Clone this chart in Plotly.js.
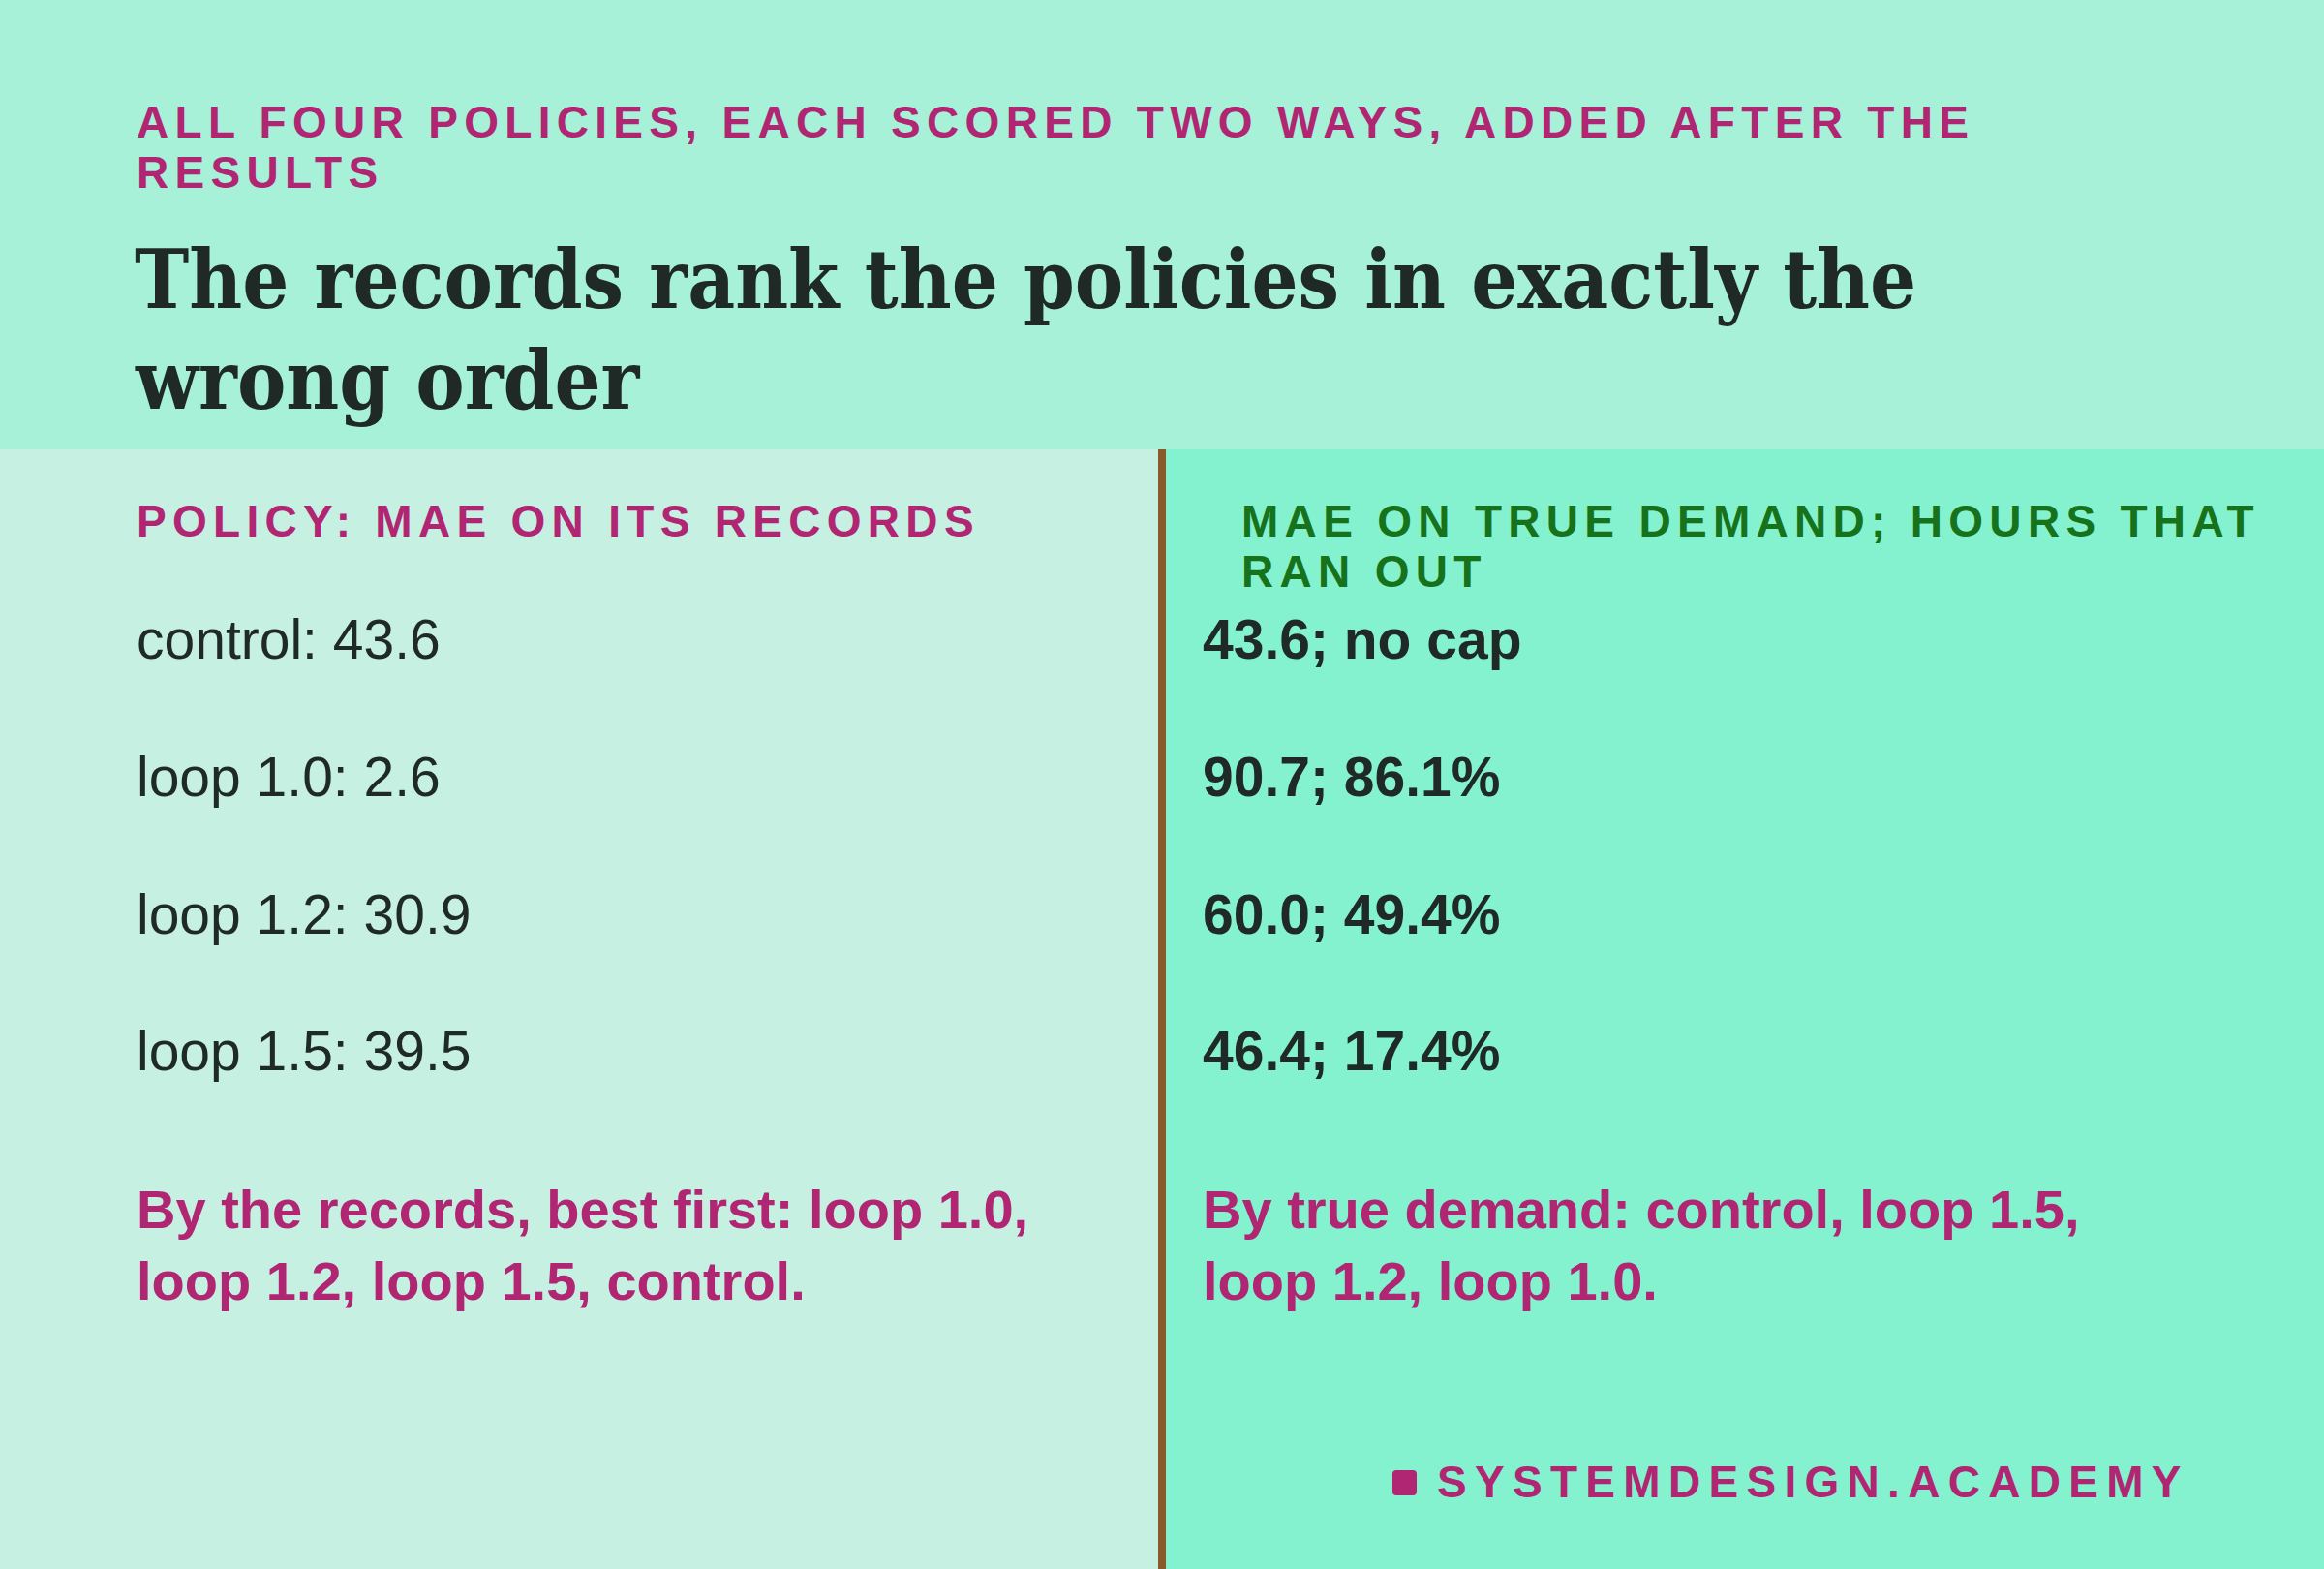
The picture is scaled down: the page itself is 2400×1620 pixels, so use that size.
<!DOCTYPE html>
<html>
<head>
<meta charset="utf-8">
<script src="https://cdn.plot.ly/plotly-3.0.1.min.js"></script>
<style>
  html, body { margin: 0; padding: 0; background: #84f2cf; }
  #chart { width: 2400px; height: 1620px; }
</style>
</head>
<body>
<div id="chart"></div>
<script>
// the four policies and their two scores
var policies = ['control', 'loop 1.0', 'loop 1.2', 'loop 1.5'];
var recordsMae = [43.6, 2.6, 30.9, 39.5];
var trueMae = [43.6, 90.7, 60.0, 46.4];
var ranOut = [null, 86.1, 49.4, 17.4];   // % of hours that ran out, null = no cap

var kicker = ['ALL FOUR POLICIES, EACH SCORED TWO WAYS, ADDED AFTER THE', 'RESULTS'];
var headline = ['The records rank the policies in exactly the', 'wrong order'];
var leftHead = ['POLICY: MAE ON ITS RECORDS'];
var rightHead = ['MAE ON TRUE DEMAND; HOURS THAT', 'RAN OUT'];
var leftNote = ['By the records, best first: loop 1.0,', 'loop 1.2, loop 1.5, control.'];
var rightNote = ['By true demand: control, loop 1.5,', 'loop 1.2, loop 1.0.'];
var brand = 'SYSTEMDESIGN.ACADEMY';

var W = 2400, H = 1620;
var magenta = '#b02673';
var ink = '#1f2925';
var green = '#17731b';
var sans = 'Liberation Sans, Arial, sans-serif';
var serif = 'DejaVu Serif Condensed, DejaVu Serif, serif';

function px(x) { return x / W; }
function py(y) { return 1 - y / H; }

var annotations = [];

// one line of text, placed by its baseline in pixels
function line(text, x, base, size, color, family, bold, spacing) {
    var t = spacing ? '<span style="letter-spacing:' + spacing + 'px">' + text + '</span>' : text;
    annotations.push({
        text: t,
        xref: 'paper', yref: 'paper',
        x: px(x), y: py(base - 0.3465 * size),
        xanchor: 'left', yanchor: 'middle',
        showarrow: false,
        borderpad: 0, borderwidth: 0,
        font: {family: family, size: size, color: color, weight: bold ? 'bold' : 'normal'}
    });
}

for (var i in kicker) {
    line(kicker[i], 141, 142 + 52 * i, 46, magenta, sans, true, 6.3);
}
for (var i in headline) {
    line(headline[i], 139, 318 + 104 * i, 84, ink, serif, true);
}
for (var i in leftHead) {
    line(leftHead[i], 141, 554 + 52 * i, 46, magenta, sans, true, 6.3);
}
for (var i in rightHead) {
    line(rightHead[i], 1282, 554 + 52 * i, 46, green, sans, true, 6.3);
}
for (var i in leftNote) {
    line(leftNote[i], 141, 1268 + 74 * i, 56, magenta, sans, true);
}
for (var i in rightNote) {
    line(rightNote[i], 1242, 1268 + 74 * i, 56, magenta, sans, true);
}
line(brand, 1484, 1546, 46, magenta, sans, true, 8.3);

// the rows sit on a hidden category axis, one per policy
for (var i in policies) {
    var right = trueMae[i].toFixed(1) + '; ' + (ranOut[i] === null ? 'no cap' : ranOut[i].toFixed(1) + '%');
    annotations.push({
        text: policies[i] + ': ' + recordsMae[i].toFixed(1),
        xref: 'paper', yref: 'y',
        x: px(141), y: policies[i],
        xanchor: 'left', yanchor: 'middle',
        showarrow: false, borderpad: 0, borderwidth: 0,
        font: {family: sans, size: 57, color: ink}
    });
    annotations.push({
        text: right,
        xref: 'paper', yref: 'y',
        x: px(1242), y: policies[i],
        xanchor: 'left', yanchor: 'middle',
        showarrow: false, borderpad: 0, borderwidth: 0,
        font: {family: sans, size: 57, color: ink, weight: 'bold'}
    });
}

// brand mark: small square with rounded corners
var bx0 = px(1438), bx1 = px(1463), by0 = py(1544), by1 = py(1518);
var rx = px(4), ry = 4 / H;
var markPath = 'M' + (bx0 + rx) + ',' + by0 + ' L' + (bx1 - rx) + ',' + by0 +
    ' Q' + bx1 + ',' + by0 + ' ' + bx1 + ',' + (by0 + ry) +
    ' L' + bx1 + ',' + (by1 - ry) + ' Q' + bx1 + ',' + by1 + ' ' + (bx1 - rx) + ',' + by1 +
    ' L' + (bx0 + rx) + ',' + by1 + ' Q' + bx0 + ',' + by1 + ' ' + bx0 + ',' + (by1 - ry) +
    ' L' + bx0 + ',' + (by0 + ry) + ' Q' + bx0 + ',' + by0 + ' ' + (bx0 + rx) + ',' + by0 + ' Z';

var shapes = [
    {type: 'rect', xref: 'paper', yref: 'paper', x0: 0, x1: 1, y0: py(464), y1: 1,
     fillcolor: '#a7f1d9', line: {width: 0}, layer: 'below'},
    {type: 'rect', xref: 'paper', yref: 'paper', x0: 0, x1: px(1196), y0: 0, y1: py(464),
     fillcolor: '#c6f0e2', line: {width: 0}, layer: 'below'},
    {type: 'rect', xref: 'paper', yref: 'paper', x0: px(1204), x1: 1, y0: 0, y1: py(464),
     fillcolor: '#84f2cf', line: {width: 0}, layer: 'below'},
    {type: 'rect', xref: 'paper', yref: 'paper', x0: px(1196), x1: px(1204), y0: 0, y1: py(464),
     fillcolor: '#8b5a2b', line: {width: 0}, layer: 'below'},
    {type: 'path', xref: 'paper', yref: 'paper', path: markPath,
     fillcolor: magenta, line: {width: 0}, layer: 'above'}
];

var trace = {
    x: [0, 0, 0, 0],
    y: policies,
    type: 'scatter',
    mode: 'markers',
    marker: {opacity: 0},
    hoverinfo: 'skip',
    showlegend: false
};

// row centres at 660px, 142px apart
var layout = {
    width: W, height: H,
    margin: {l: 0, r: 0, t: 0, b: 0},
    paper_bgcolor: '#84f2cf',
    plot_bgcolor: 'rgba(0,0,0,0)',
    xaxis: {range: [0, 1], visible: false, fixedrange: true},
    yaxis: {type: 'category', categoryarray: policies, range: [6.773, -4.66], visible: false, fixedrange: true},
    shapes: shapes,
    annotations: annotations,
    showlegend: false
};

Plotly.newPlot('chart', [trace], layout, {displayModeBar: false, staticPlot: true});
</script>
</body>
</html>
